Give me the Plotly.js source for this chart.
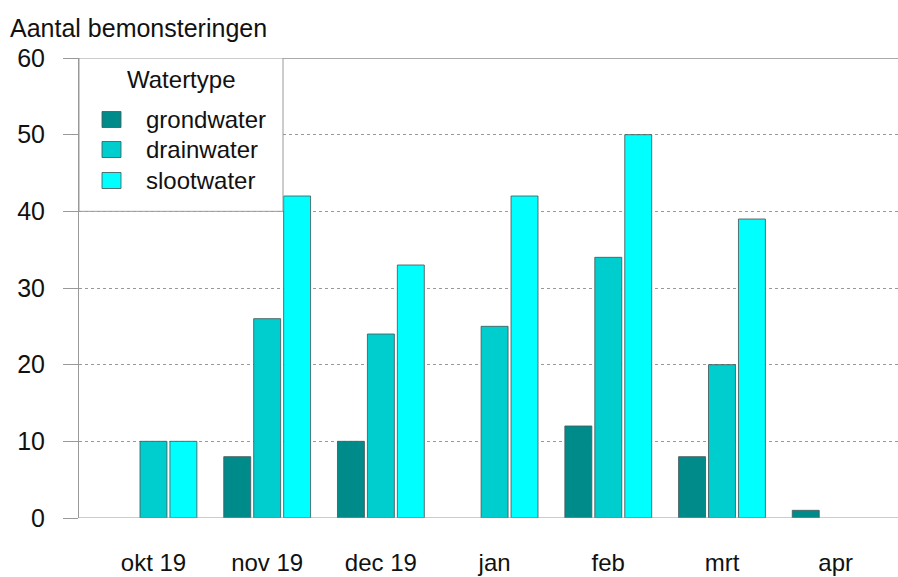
<!DOCTYPE html>
<html>
<head>
<meta charset="utf-8">
<script src="https://cdn.plot.ly/plotly-3.0.1.min.js"></script>
<style>html,body{margin:0;padding:0;background:#fff;}#chart{width:898px;height:577px;}</style>
</head>
<body>
<div id="chart"></div>
<script>
var categories = ["okt 19", "nov 19", "dec 19", "jan", "feb", "mrt", "apr"];
var grondwater = [0, 8, 10, 0, 12, 8, 1];
var drainwater = [10, 26, 24, 25, 34, 20, 0];
var slootwater = [10, 42, 33, 42, 50, 39, 0];
var seriesNames = ["grondwater", "drainwater", "slootwater"];
var seriesColors = ["#008B8B", "#00CDCD", "#00FFFF"];
var yTicks = [0, 10, 20, 30, 40, 50, 60];
var legendTitle = "Watertype";

var FONT = "Liberation Sans, Arial, Helvetica, sans-serif";
var TXT = "#111";
var values = [grondwater, drainwater, slootwater];
var traces = values.map(function (v, i) {
  return {
    type: "bar",
    name: seriesNames[i],
    x: categories.map(function (c, k) { return k; }),
    y: v.map(function (val) { return val === 0 ? null : val; }),
    marker: { color: seriesColors[i], line: { color: "rgba(70,90,90,0.85)", width: 1 } },
    showlegend: false
  };
});

// plot area geometry (px) used to place the hand-drawn legend box
var PL = 79, PW = 819, PB = 518, PH = 460;
function px2x(p) { return (p - PL) / PW; }
function px2y(p) { return (PB - p) / PH; }

var shapes = [
  { type: "line", xref: "paper", yref: "y", x0: 0, x1: 1, y0: 60, y1: 60, line: { color: "#aaa", width: 2 }, layer: "above" },
  { type: "line", xref: "paper", yref: "y", x0: 0, x1: 1, y0: 0, y1: 0, line: { color: "#999", width: 1 }, layer: "above" },
  // legend box
  { type: "rect", xref: "paper", yref: "y", x0: 0, x1: px2x(283), y0: 40, y1: 60, fillcolor: "#fff", line: { color: "#999", width: 1 }, layer: "above" }
];
var annotations = [
  { xref: "paper", yref: "paper", x: px2x(181), y: px2y(80), xanchor: "center", yanchor: "middle", showarrow: false,
    text: legendTitle, font: { family: FONT, size: 24, color: TXT } }
];
var legendRowsY = [119.5, 149.5, 180.5];
seriesNames.forEach(function (n, i) {
  var cy = legendRowsY[i];
  shapes.push({ type: "rect", xref: "paper", yref: "paper",
    x0: px2x(102), x1: px2x(121), y0: px2y(cy + 8), y1: px2y(cy - 8),
    fillcolor: seriesColors[i], line: { color: "rgba(70,90,90,0.85)", width: 1 }, layer: "above" });
  annotations.push({ xref: "paper", yref: "paper", x: px2x(144), y: px2y(cy), xanchor: "left", yanchor: "middle",
    showarrow: false, text: n, font: { family: FONT, size: 24, color: TXT } });
});

var layout = {
  width: 898, height: 577,
  margin: { l: PL, r: 0, t: 58, b: 59, pad: 0 },
  paper_bgcolor: "#fff", plot_bgcolor: "#fff",
  barmode: "group", bargap: 0.21, bargroupgap: 0.1,
  font: { family: FONT, color: TXT, size: 22 },
  showlegend: false,
  title: {
    text: "Aantal bemonsteringen",
    font: { family: FONT, size: 25, color: TXT },
    x: 10 / 898, xanchor: "left", xref: "container",
    y: 1 - 28 / 577, yanchor: "middle", yref: "container"
  },
  xaxis: {
    range: [-0.655, 6.548],
    tickmode: "array",
    tickvals: categories.map(function (c, k) { return k; }),
    ticktext: categories,
    ticks: "", showgrid: false, zeroline: false, showline: false,
    tickfont: { family: FONT, size: 24, color: TXT },
    ticklabelstandoff: 28,
    fixedrange: true
  },
  yaxis: {
    range: [0, 60],
    tickmode: "array", tickvals: yTicks, ticktext: yTicks.map(String),
    ticks: "outside", ticklen: 15, tickcolor: "#999", tickwidth: 1,
    showline: true, linecolor: "#999", linewidth: 1,
    showgrid: true, gridcolor: "#999", griddash: "dot", gridwidth: 1,
    zeroline: false,
    tickfont: { family: FONT, size: 25, color: TXT },
    ticklabelstandoff: 13,
    fixedrange: true
  },
  shapes: shapes,
  annotations: annotations
};

Plotly.newPlot("chart", traces, layout, { staticPlot: true, displayModeBar: false });
</script>
</body>
</html>
